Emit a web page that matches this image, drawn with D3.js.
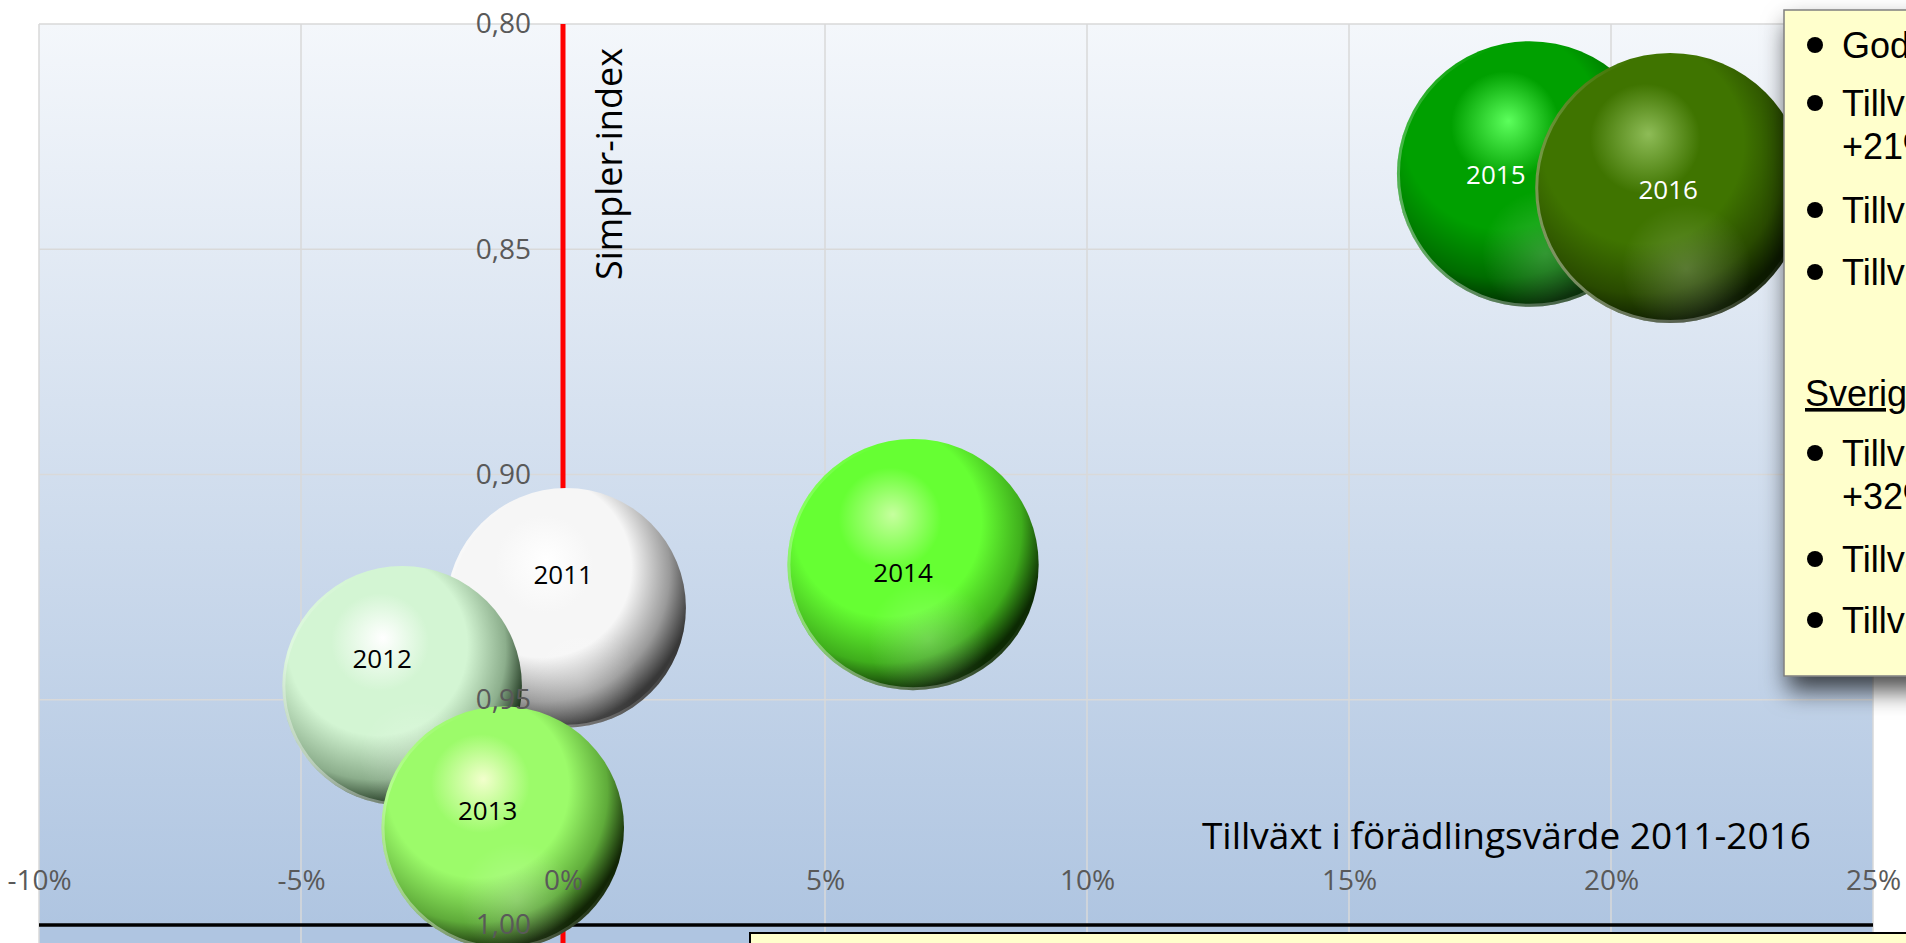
<!DOCTYPE html>
<meta charset="utf-8">
<style>
body { margin: 0; background: #fff; }
svg { display: block; }
.tick text { fill: #595959; font-family: "Open Sans"; font-size: 28px; }
.note { font-family: "Liberation Sans", Arial; font-size: 36px; fill: #000; }
</style>
<body>
<script src="https://cdn.jsdelivr.net/npm/d3@7/dist/d3.min.js"></script>
<script>

// chart data
var years = ["2011", "2012", "2013", "2014", "2015", "2016"];
var growth = [0.0006, -0.0307, -0.0115, 0.0668, 0.1845, 0.2113];   // tillväxt i förädlingsvärde
var simpler = [0.9296, 0.9469, 0.9784, 0.9200, 0.8333, 0.8364];    // Simpler-index
var bubbleSize = [100, 100, 102.5, 110, 123, 127];
var xTicks = [-0.10, -0.05, 0, 0.05, 0.10, 0.15, 0.20, 0.25];
var yTicks = [0.80, 0.85, 0.90, 0.95, 1.00];

// text box on the right (cut by the picture edge)
var noteLines = [
  {t: "Goda förutsättningar", bullet: true, y: 45},
  {t: "Tillväxt i förädlingsvärde", bullet: true, y: 103},
  {t: "+21% 2011-2016", bullet: false, y: 146},
  {t: "Tillväxt i sysselsättning", bullet: true, y: 210},
  {t: "Tillväxt i antal företag", bullet: true, y: 272},
  {t: "Sverige:", bullet: false, y: 393, head: true},
  {t: "Tillväxt i förädlingsvärde", bullet: true, y: 453},
  {t: "+32% 2011-2016", bullet: false, y: 496},
  {t: "Tillväxt i sysselsättning", bullet: true, y: 559},
  {t: "Tillväxt i antal företag", bullet: true, y: 620}
];

// colours of the shaded balls: highlight, base, shade, rim, label
var ballColors = [
  ["#ffffff", "#f6f6f6", "#9a9a9a", "#383838", "#000"],
  ["#ffffff", "#d3f5d3", "#8cae8c", "#1a301a", "#000"],
  ["#f2ffcc", "#9cfb6a", "#5fab3a", "#122606", "#000"],
  ["#c6ff9e", "#66ff33", "#3fae1c", "#0c2a03", "#000"],
  ["#5cff5c", "#00a000", "#006c00", "#002800", "#fff"],
  ["#8ebc57", "#3f7400", "#294a00", "#0c1a00", "#fff"]
];
// label nudges (Excel labels were dragged a little)
var labelNudge = [[-3, -33], [-20, -27], [-15, -17], [-10, 8], [-34, 1], [-2, 2]];

var width = 1906, height = 943;

var x = d3.scaleLinear().domain([-0.10, 0.25]).range([39, 1873]);
var y = d3.scaleLinear().domain([0.80, 1.00]).range([24, 925]);
var r = d3.scaleSqrt().domain([0, 127]).range([0, 135]);

var svg = d3.select("body").append("svg")
  .attr("width", width)
  .attr("height", height);

var defs = svg.append("defs");

var bg = defs.append("linearGradient").attr("id", "bg")
  .attr("gradientUnits", "userSpaceOnUse")
  .attr("x1", 0).attr("y1", y(0.80)).attr("x2", 0).attr("y2", y(1.00));
bg.append("stop").attr("offset", 0).attr("stop-color", "#f4f7fb");
bg.append("stop").attr("offset", 1).attr("stop-color", "#afc5e1");

ballColors.forEach(function (c, i) {
  var g = defs.append("radialGradient").attr("id", "ball" + i)
    .attr("cx", 0.38).attr("cy", 0.36).attr("r", 0.68)
    .attr("fx", 0.42).attr("fy", 0.3);
  g.append("stop").attr("offset", 0).attr("stop-color", c[0]);
  g.append("stop").attr("offset", 0.3).attr("stop-color", c[1]);
  g.append("stop").attr("offset", 0.55).attr("stop-color", c[1]);
  g.append("stop").attr("offset", 0.8).attr("stop-color", c[2]);
  g.append("stop").attr("offset", 0.96).attr("stop-color", c[3]);
  g.append("stop").attr("offset", 1).attr("stop-color", c[3]);
});

var refl = defs.append("radialGradient").attr("id", "refl")
  .attr("cx", 0.56).attr("cy", 0.8).attr("r", 0.24);
refl.append("stop").attr("offset", 0).attr("stop-color", "#fff").attr("stop-opacity", 0.2);
refl.append("stop").attr("offset", 1).attr("stop-color", "#fff").attr("stop-opacity", 0);

var rim = defs.append("linearGradient").attr("id", "rim")
  .attr("x1", 0.15).attr("y1", 0.9).attr("x2", 0.7).attr("y2", 0.4);
rim.append("stop").attr("offset", 0).attr("stop-color", "#fff").attr("stop-opacity", 0.4);
rim.append("stop").attr("offset", 1).attr("stop-color", "#fff").attr("stop-opacity", 0);

var shadow = defs.append("filter").attr("id", "shadow")
  .attr("x", -0.3).attr("y", -0.2).attr("width", 1.6).attr("height", 1.5);
shadow.append("feDropShadow")
  .attr("dx", 4).attr("dy", 14).attr("stdDeviation", 12)
  .attr("flood-color", "#000").attr("flood-opacity", 0.7);

// plot area
svg.append("rect")
  .attr("x", x(-0.10)).attr("y", y(0.80))
  .attr("width", x(0.25) - x(-0.10)).attr("height", height - y(0.80))
  .attr("fill", "url(#bg)");

// gridlines
svg.append("g").selectAll("line").data(xTicks).enter().append("line")
  .attr("x1", function (d) { return x(d); }).attr("x2", function (d) { return x(d); })
  .attr("y1", y(0.80)).attr("y2", height)
  .attr("stroke", "#d9d9d9").attr("stroke-width", 1.5);

svg.append("g").selectAll("line").data(yTicks).enter().append("line")
  .attr("x1", x(-0.10)).attr("x2", x(0.25))
  .attr("y1", function (d) { return y(d); }).attr("y2", function (d) { return y(d); })
  .attr("stroke", "#d9d9d9").attr("stroke-width", 1.5);

// axis lines
svg.append("line")
  .attr("x1", x(-0.10)).attr("x2", x(0.25))
  .attr("y1", y(1.00)).attr("y2", y(1.00))
  .attr("stroke", "#000").attr("stroke-width", 3.5);

svg.append("line")
  .attr("x1", x(0)).attr("x2", x(0))
  .attr("y1", y(0.80)).attr("y2", height)
  .attr("stroke", "#ff0000").attr("stroke-width", 5);

// bubbles
var balls = svg.append("g").selectAll("g")
  .data(years).enter().append("g")
  .attr("transform", function (d, i) {
    return "translate(" + x(growth[i]) + "," + y(simpler[i]) + ")";
  });

balls.append("circle")
  .attr("r", function (d, i) { return r(bubbleSize[i]); })
  .attr("fill", function (d, i) { return "url(#ball" + i + ")"; });

balls.append("circle")
  .attr("r", function (d, i) { return r(bubbleSize[i]); })
  .attr("fill", "url(#refl)");

balls.append("circle")
  .attr("r", function (d, i) { return r(bubbleSize[i]) - 1.5; })
  .attr("fill", "none")
  .attr("stroke", "url(#rim)").attr("stroke-width", 3);

balls.append("text")
  .attr("x", function (d, i) { return labelNudge[i][0]; })
  .attr("y", function (d, i) { return labelNudge[i][1]; })
  .attr("text-anchor", "middle")
  .attr("dy", "0.36em")
  .style("font-family", "Open Sans")
  .style("font-size", "26px")
  .style("fill", function (d, i) { return ballColors[i][4]; })
  .text(function (d) { return d; });

// tick labels
var xAxis = svg.append("g")
  .attr("transform", "translate(0," + (y(1.00) - 45) + ")")
  .call(d3.axisBottom(x).tickValues(xTicks).tickSize(0).tickPadding(0)
    .tickFormat(function (d) { return Math.round(d * 100) + "%"; }));
xAxis.select(".domain").remove();
xAxis.selectAll("text").attr("dy", "0.36em");

var yAxis = svg.append("g")
  .attr("transform", "translate(" + x(0) + ",0)")
  .call(d3.axisLeft(y).tickValues(yTicks).tickSize(0).tickPadding(32)
    .tickFormat(function (d) { return d.toFixed(2).replace(".", ","); }));
yAxis.select(".domain").remove();

// axis titles
svg.append("text")
  .attr("transform", "translate(" + (x(0) + 59) + ",280) rotate(-90)")
  .style("font-family", "Open Sans").style("font-size", "36px")
  .text("Simpler-index");

svg.append("text")
  .attr("x", 1811).attr("y", 849)
  .attr("text-anchor", "end")
  .style("font-family", "Open Sans").style("font-size", "37px")
  .text("Tillväxt i förädlingsvärde 2011-2016");

// text boxes
svg.append("rect")
  .attr("x", 750).attr("y", 933).attr("width", 1300).attr("height", 60)
  .attr("fill", "#ffffcc").attr("stroke", "#000").attr("stroke-width", 2);

var box = svg.append("g");
box.append("rect")
  .attr("x", 1784).attr("y", 10).attr("width", 300).attr("height", 666)
  .attr("fill", "#ffffcc").attr("stroke", "#7f7f7f").attr("stroke-width", 1.5)
  .attr("filter", "url(#shadow)");

box.selectAll("circle").data(noteLines.filter(function (d) { return d.bullet; }))
  .enter().append("circle")
  .attr("cx", 1815).attr("cy", function (d) { return d.y; })
  .attr("r", 8).attr("fill", "#000");

box.selectAll("text").data(noteLines).enter().append("text")
  .attr("class", "note")
  .attr("x", function (d) { return d.head ? 1805 : 1842; })
  .attr("y", function (d) { return d.y + 13; })
  .style("text-decoration", function (d) { return d.head ? "underline" : null; })
  .text(function (d) { return d.t; });

</script>
</body>
